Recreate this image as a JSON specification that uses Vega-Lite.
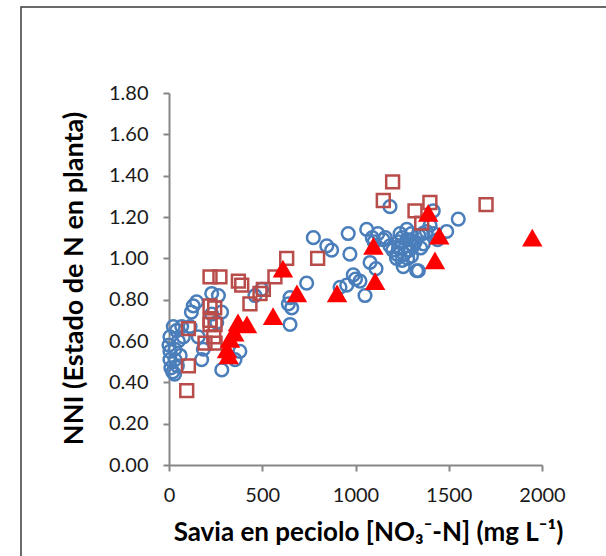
{
  "$schema": "https://vega.github.io/schema/vega-lite/v6.json",
  "width": 590,
  "height": 555,
  "autosize": {"type": "none"},
  "padding": {"left": 21, "top": 7, "right": -5, "bottom": -6},
  "background": "white",
  "config": {
    "view": {"stroke": "#3a3a3a", "strokeWidth": 1.5},
    "axis": {
      "grid": false,
      "domainColor": "#868686",
      "domainWidth": 2,
      "tickColor": "#868686",
      "tickWidth": 2,
      "tickSize": 6,
      "labelFlush": false,
      "labelFont": "Lato",
      "labelFontSize": 20,
      "labelColor": "#1a1a1a",
      "titleFont": "Lato",
      "titleFontWeight": "bold",
      "titleColor": "#000000"
    }
  },
  "datasets": {
    "pts": [
      {"x": 5, "y": 0.62, "g": "c"}, {"x": 0, "y": 0.58, "g": "c"}, {"x": 5, "y": 0.55, "g": "c"}, {"x": 5, "y": 0.51, "g": "c"},
      {"x": 10, "y": 0.47, "g": "c"}, {"x": 20, "y": 0.45, "g": "c"}, {"x": 30, "y": 0.44, "g": "c"}, {"x": 32, "y": 0.51, "g": "c"},
      {"x": 32, "y": 0.56, "g": "c"}, {"x": 23, "y": 0.67, "g": "c"}, {"x": 40, "y": 0.65, "g": "c"}, {"x": 50, "y": 0.60, "g": "c"},
      {"x": 68, "y": 0.67, "g": "c"}, {"x": 77, "y": 0.62, "g": "c"}, {"x": 60, "y": 0.53, "g": "c"}, {"x": 45, "y": 0.48, "g": "c"},
      {"x": 113, "y": 0.67, "g": "c"}, {"x": 130, "y": 0.77, "g": "c"}, {"x": 148, "y": 0.79, "g": "c"}, {"x": 120, "y": 0.74, "g": "c"},
      {"x": 157, "y": 0.62, "g": "c"}, {"x": 184, "y": 0.56, "g": "c"}, {"x": 175, "y": 0.51, "g": "c"}, {"x": 229, "y": 0.83, "g": "c"},
      {"x": 265, "y": 0.82, "g": "c"}, {"x": 229, "y": 0.73, "g": "c"}, {"x": 282, "y": 0.74, "g": "c"}, {"x": 256, "y": 0.69, "g": "c"},
      {"x": 283, "y": 0.46, "g": "c"}, {"x": 354, "y": 0.51, "g": "c"}, {"x": 380, "y": 0.55, "g": "c"}, {"x": 461, "y": 0.82, "g": "c"},
      {"x": 497, "y": 0.85, "g": "c"}, {"x": 640, "y": 0.78, "g": "c"}, {"x": 649, "y": 0.81, "g": "c"}, {"x": 658, "y": 0.76, "g": "c"},
      {"x": 649, "y": 0.68, "g": "c"}, {"x": 738, "y": 0.88, "g": "c"}, {"x": 774, "y": 1.10, "g": "c"}, {"x": 846, "y": 1.06, "g": "c"},
      {"x": 872, "y": 1.04, "g": "c"}, {"x": 961, "y": 1.12, "g": "c"}, {"x": 1060, "y": 1.14, "g": "c"}, {"x": 970, "y": 1.02, "g": "c"},
      {"x": 1078, "y": 0.98, "g": "c"}, {"x": 988, "y": 0.92, "g": "c"}, {"x": 953, "y": 0.87, "g": "c"}, {"x": 917, "y": 0.86, "g": "c"},
      {"x": 1024, "y": 0.89, "g": "c"}, {"x": 1051, "y": 0.82, "g": "c"}, {"x": 1000, "y": 0.90, "g": "c"}, {"x": 1149, "y": 1.09, "g": "c"},
      {"x": 1185, "y": 1.06, "g": "c"}, {"x": 1221, "y": 1.02, "g": "c"}, {"x": 1239, "y": 1.12, "g": "c"}, {"x": 1275, "y": 1.14, "g": "c"},
      {"x": 1292, "y": 1.09, "g": "c"}, {"x": 1328, "y": 0.94, "g": "c"}, {"x": 1551, "y": 1.19, "g": "c"}, {"x": 1489, "y": 1.13, "g": "c"},
      {"x": 1417, "y": 1.23, "g": "c"}, {"x": 1337, "y": 0.94, "g": "c"}, {"x": 1256, "y": 0.96, "g": "c"}, {"x": 1275, "y": 1.09, "g": "c"},
      {"x": 1310, "y": 1.06, "g": "c"}, {"x": 1364, "y": 1.07, "g": "c"}, {"x": 1185, "y": 1.25, "g": "c"}, {"x": 1200, "y": 1.04, "g": "c"},
      {"x": 1230, "y": 1.08, "g": "c"}, {"x": 1250, "y": 1.10, "g": "c"}, {"x": 1260, "y": 1.02, "g": "c"}, {"x": 1280, "y": 1.00, "g": "c"},
      {"x": 1300, "y": 1.12, "g": "c"}, {"x": 1320, "y": 1.08, "g": "c"}, {"x": 1340, "y": 1.11, "g": "c"}, {"x": 1360, "y": 1.12, "g": "c"},
      {"x": 1270, "y": 1.06, "g": "c"}, {"x": 1220, "y": 1.00, "g": "c"}, {"x": 1250, "y": 0.99, "g": "c"}, {"x": 1300, "y": 1.01, "g": "c"},
      {"x": 1350, "y": 1.05, "g": "c"}, {"x": 1380, "y": 1.13, "g": "c"}, {"x": 1400, "y": 1.16, "g": "c"}, {"x": 1420, "y": 1.12, "g": "c"},
      {"x": 1440, "y": 1.09, "g": "c"}, {"x": 1100, "y": 1.08, "g": "c"}, {"x": 1110, "y": 0.95, "g": "c"}, {"x": 1090, "y": 1.10, "g": "c"},
      {"x": 1290, "y": 1.04, "g": "c"}, {"x": 1230, "y": 1.05, "g": "c"}, {"x": 1120, "y": 1.12, "g": "c"}, {"x": 1160, "y": 1.10, "g": "c"},
      {"x": 631, "y": 1.00, "g": "s"}, {"x": 797, "y": 1.00, "g": "s"}, {"x": 220, "y": 0.91, "g": "s"}, {"x": 273, "y": 0.91, "g": "s"},
      {"x": 372, "y": 0.89, "g": "s"}, {"x": 390, "y": 0.87, "g": "s"}, {"x": 568, "y": 0.91, "g": "s"}, {"x": 506, "y": 0.85, "g": "s"},
      {"x": 488, "y": 0.83, "g": "s"}, {"x": 434, "y": 0.78, "g": "s"}, {"x": 220, "y": 0.77, "g": "s"}, {"x": 220, "y": 0.68, "g": "s"},
      {"x": 247, "y": 0.68, "g": "s"}, {"x": 104, "y": 0.66, "g": "s"}, {"x": 193, "y": 0.59, "g": "s"}, {"x": 247, "y": 0.59, "g": "s"},
      {"x": 104, "y": 0.48, "g": "s"}, {"x": 95, "y": 0.36, "g": "s"}, {"x": 220, "y": 0.70, "g": "s"}, {"x": 240, "y": 0.62, "g": "s"},
      {"x": 245, "y": 0.76, "g": "s"}, {"x": 1199, "y": 1.37, "g": "s"}, {"x": 1149, "y": 1.28, "g": "s"}, {"x": 1399, "y": 1.27, "g": "s"},
      {"x": 1319, "y": 1.23, "g": "s"}, {"x": 1355, "y": 1.17, "g": "s"}, {"x": 1700, "y": 1.26, "g": "s"},
      {"x": 611, "y": 0.95, "g": "t"}, {"x": 686, "y": 0.83, "g": "t"}, {"x": 901, "y": 0.83, "g": "t"}, {"x": 558, "y": 0.72, "g": "t"},
      {"x": 418, "y": 0.68, "g": "t"}, {"x": 370, "y": 0.69, "g": "t"}, {"x": 327, "y": 0.61, "g": "t"}, {"x": 311, "y": 0.56, "g": "t"},
      {"x": 320, "y": 0.53, "g": "t"}, {"x": 350, "y": 0.64, "g": "t"}, {"x": 1096, "y": 1.06, "g": "t"}, {"x": 1105, "y": 0.89, "g": "t"},
      {"x": 1390, "y": 1.22, "g": "t"}, {"x": 1449, "y": 1.11, "g": "t"}, {"x": 1426, "y": 0.99, "g": "t"}, {"x": 1948, "y": 1.10, "g": "t"}
    ]
  },
  "encoding": {
    "x": {
      "field": "x", "type": "quantitative",
      "scale": {"domain": [0, 2000], "range": [148, 521], "nice": false, "zero": false},
      "axis": {
        "values": [0, 500, 1000, 1500, 2000],
        "format": "d",
        "offset": -97,
        "labelPadding": 14,
        "title": "Savia en peciolo [NO₃⁻-N] (mg L⁻¹)",
        "titleFontSize": 26,
        "titleBaseline": "alphabetic",
        "titleX": 347,
        "titleY": 75
      }
    },
    "y": {
      "field": "y", "type": "quantitative",
      "scale": {"domain": [0, 1.8], "range": [458, 86], "nice": false, "zero": false},
      "axis": {
        "values": [0, 0.2, 0.4, 0.6, 0.8, 1.0, 1.2, 1.4, 1.6, 1.8],
        "format": ".2f",
        "offset": -148,
        "labelPadding": 15,
        "title": "NNI (Estado de N en planta)",
        "titleFontSize": 27,
        "titleBaseline": "alphabetic",
        "titleX": -87,
        "titleY": 271
      }
    }
  },
  "layer": [
    {
      "data": {"name": "pts"},
      "transform": [{"filter": "datum.g === 'c'"}],
      "mark": {"type": "point", "shape": "circle", "filled": false, "stroke": "#4a7ebb", "strokeWidth": 2.5, "size": 160, "opacity": 1}
    },
    {
      "data": {"values": [{}]},
      "mark": {"type": "rule", "color": "#ff0000", "strokeWidth": 2, "strokeDash": [6, 4]},
      "encoding": {
        "x": {"datum": 0, "type": "quantitative"},
        "x2": {"datum": 1000},
        "y": {"datum": 1, "type": "quantitative"}
      }
    },
    {
      "data": {"values": [{}]},
      "mark": {"type": "rule", "color": "#ff0000", "strokeWidth": 2, "strokeDash": [6, 4]},
      "encoding": {
        "x": {"datum": 1000, "type": "quantitative"},
        "y": {"datum": 0, "type": "quantitative"},
        "y2": {"datum": 1}
      }
    },
    {
      "data": {"name": "pts"},
      "transform": [{"filter": "datum.g === 's'"}],
      "mark": {"type": "point", "shape": "square", "filled": false, "stroke": "#b84c4a", "strokeWidth": 2.5, "size": 165, "opacity": 1}
    },
    {
      "data": {"name": "pts"},
      "transform": [{"filter": "datum.g === 't'"}],
      "mark": {"type": "point", "shape": "triangle-up", "filled": true, "fill": "#ff0000", "stroke": null, "size": 420, "opacity": 1}
    }
  ]
}
